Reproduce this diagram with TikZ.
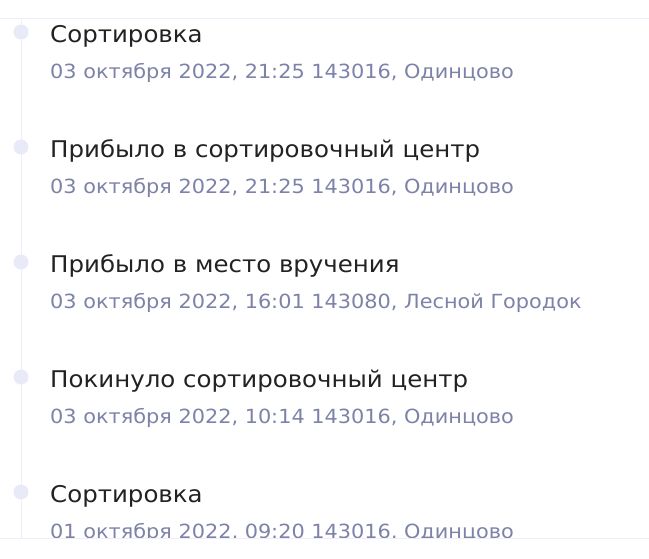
\documentclass[tikz,border=0pt]{standalone}
\usepackage{fontspec}
\setmainfont{DejaVu Sans}
\definecolor{titlec}{HTML}{222222}
\definecolor{subc}{HTML}{7D82A8}
\definecolor{rulec}{HTML}{EEEEFA}
\definecolor{dotc}{HTML}{E8EAF8}
\newcommand{\wtitle}[1]{\scalebox{1.064}[1]{#1}}
\newcommand{\wsub}[1]{\scalebox{1.068}[1]{#1}}
\begin{document}
\begin{tikzpicture}[x=1pt,y=-1pt,
  titletext/.style={anchor=base west,inner sep=0pt,text=titlec,font=\fontsize{23}{26}\selectfont},
  subtext/.style={anchor=base west,inner sep=0pt,text=subc,font=\fontsize{19.5}{22}\selectfont},
  dotmark/.style={circle,fill=dotc,minimum size=15pt,inner sep=0pt},
  rule/.style={draw=rulec,line width=1pt}]
\useasboundingbox[fill=white] (0,0) rectangle (649,558);
\coordinate (tl) at (0,18);
\coordinate (tr) at (649,18);
\coordinate (bl) at (0,538);
\coordinate (br) at (649,538);
\coordinate (vt) at (21,18);
\coordinate (vb) at (21,538);
\draw[rule] (vt) -- (vb);
\foreach \i/\t in {
 0/Сортировка,
 1/Прибыло в сортировочный центр,
 2/Прибыло в место вручения,
 3/Покинуло сортировочный центр,
 4/Сортировка}{
  \node[dotmark] (d\i) at (21,{32+115*\i}) {};
  \node[titletext] (t\i) at (50,{42+115*\i}) {\wtitle{\t}};
}
\begin{scope}
\clip (0,18) rectangle (649,538);
\foreach \i/\s in {
 0/{03 октября 2022, 21:25 143016, Одинцово},
 1/{03 октября 2022, 21:25 143016, Одинцово},
 2/{03 октября 2022, 16:01 143080, Лесной Городок},
 3/{03 октября 2022, 10:14 143016, Одинцово},
 4/{01 октября 2022, 09:20 143016, Одинцово}}{
  \node[subtext] (s\i) at (50,{78+115*\i}) {\wsub{\s}};
}
\end{scope}
\draw[rule] (tl) -- (tr);
\draw[rule] (bl) -- (br);
\end{tikzpicture}
\end{document}
